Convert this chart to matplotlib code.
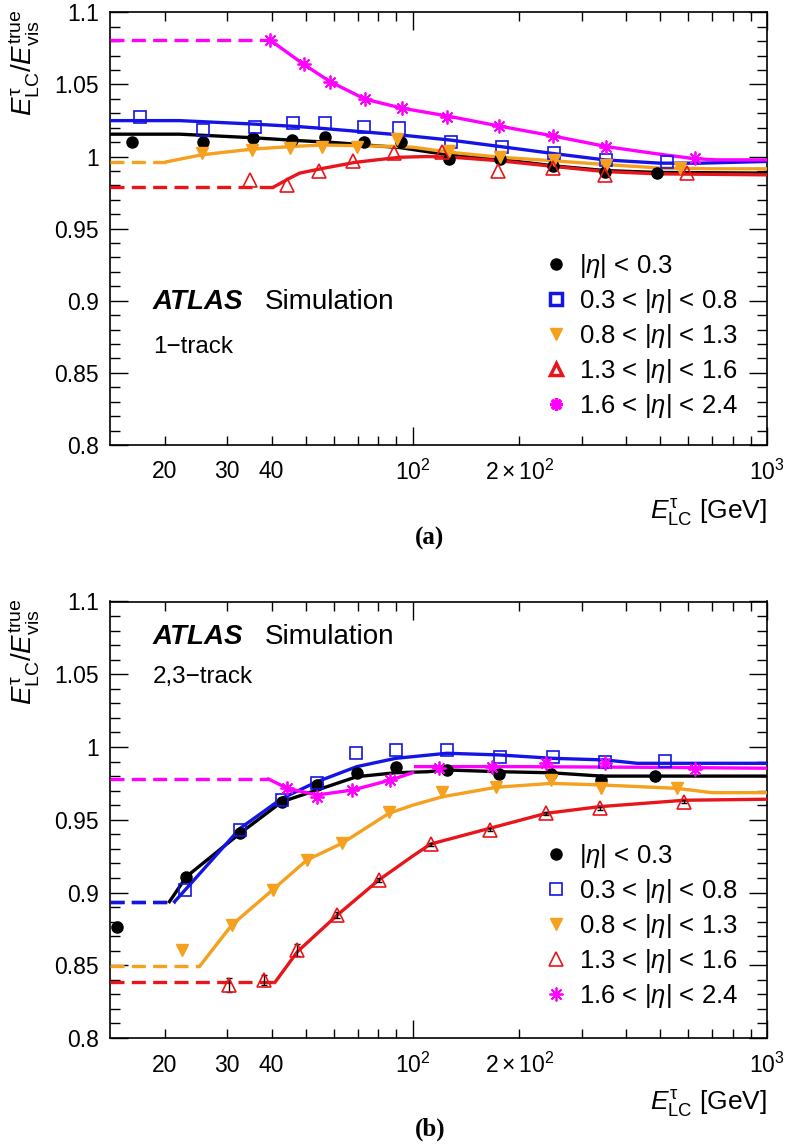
import matplotlib
matplotlib.use("Agg")
import matplotlib.pyplot as plt
from matplotlib.ticker import FixedLocator, NullFormatter, MultipleLocator
from matplotlib.lines import Line2D

plt.rcParams['font.family'] = ['Liberation Sans', 'DejaVu Sans']
plt.rcParams['mathtext.fontset'] = 'custom'
plt.rcParams['mathtext.rm'] = 'Liberation Sans'
plt.rcParams['mathtext.it'] = 'Liberation Sans:italic'
plt.rcParams['mathtext.bf'] = 'Liberation Sans:bold'
plt.rcParams['mathtext.default'] = 'regular'

# ---------------- data: panel (a) 1-track ----------------
a_eta0_E = [16.1, 25.6, 35.5, 45.6, 56.7, 72.8, 92.5, 127, 177, 249, 348, 488]
a_eta0_R = [1.0104, 1.0104, 1.0127, 1.0115, 1.0138, 1.0104, 1.0104, 0.9985, 0.998, 0.9931, 0.9896, 0.9885]
a_eta1_E = [17.0, 25.6, 35.9, 46.1, 56.7, 72.8, 91.5, 128, 179, 251, 352, 521]
a_eta1_R = [1.0276, 1.0185, 1.0207, 1.0231, 1.0231, 1.0207, 1.0196, 1.0104, 1.0069, 1.0023, 0.9977, 0.9959]
a_eta2_E = [25.4, 35.2, 45.2, 55.5, 69.7, 90.5, 126.7, 177, 251, 352, 567]
a_eta2_R = [1.0023, 1.0046, 1.0062, 1.0069, 1.0069, 1.012, 1.004, 1.0, 0.9977, 0.9943, 0.992]
a_eta3_E = [34.8, 44.3, 54.3, 68, 88.5, 121, 173.6, 248.6, 348, 594]
a_eta3_R = [0.9835, 0.9804, 0.99, 0.997, 1.0027, 1.0034, 0.9898, 0.992, 0.9873, 0.9885]
a_eta4_E = [39.7, 49.3, 58.6, 73.6, 93.5, 125.4, 175, 248.6, 352, 625]
a_eta4_R = [1.0806, 1.0639, 1.0518, 1.0397, 1.0335, 1.0276, 1.0212, 1.0143, 1.0069, 0.9989]

# fitted calibration curves, start of solid part = end of dashed
a_fit0_E = [14, 22, 35, 48, 60, 92, 126, 177, 251, 348, 488, 1000]
a_fit0_R = [1.0155, 1.0155, 1.0131, 1.011, 1.0097, 1.0062, 1.0012, 0.998, 0.9935, 0.9903, 0.989, 0.9885]
a_fit1_E = [14, 22, 35, 48, 55, 92, 127, 177, 251, 348, 500, 650, 1000]
a_fit1_R = [1.0249, 1.0249, 1.0226, 1.0207, 1.0196, 1.015, 1.0115, 1.0069, 1.002, 0.9977, 0.9954, 0.9954, 0.9966]
a_fit2_E = [20.2, 25.4, 35.2, 45.2, 55.5, 70, 90, 100, 127, 177, 251, 348, 500, 700, 1000]
a_fit2_R = [0.9963, 1.0012, 1.0051, 1.0069, 1.008, 1.0075, 1.007, 1.0065, 1.003, 0.9995, 0.997, 0.9945, 0.992, 0.9915, 0.9915]
a_fit3_E = [40.5, 45, 48, 55, 69, 92, 110, 130, 177, 251, 348, 488, 1000]
a_fit3_R = [0.9788, 0.985, 0.9885, 0.9915, 0.996, 0.9995, 1.0, 0.9995, 0.997, 0.9931, 0.9896, 0.988, 0.9873]
a_fit4_E = [39.7, 49.3, 58.6, 73.6, 93.5, 125.4, 175, 248.6, 352, 488, 625, 720, 1000]
a_fit4_R = [1.0806, 1.0639, 1.0518, 1.0397, 1.0335, 1.0281, 1.0212, 1.0143, 1.0069, 1.0019, 0.9985, 0.9977, 0.9977]

# ---------------- data: panel (b) 2,3-track ----------------
b_eta0_E = [14.66, 23.0, 32.6, 42.8, 53.7, 69.6, 89.5, 125.4, 175, 246, 341, 483]
b_eta0_R = [0.8761, 0.9109, 0.9407, 0.9624, 0.9739, 0.9819, 0.9865, 0.9842, 0.9814, 0.9814, 0.9773, 0.980]
b_eta1_E = [22.8, 32.6, 42.8, 53.7, 69.3, 89.9, 125.4, 177, 249, 350, 515]
b_eta1_R = [0.9017, 0.943, 0.9636, 0.9755, 0.9957, 0.9979, 0.9979, 0.9933, 0.9933, 0.9895, 0.9904]
b_eta2_E = [22.3, 30.9, 40.5, 50.3, 63.2, 85.7, 121.4, 172, 246, 341, 556]
b_eta2_R = [0.8605, 0.8777, 0.9017, 0.9223, 0.9338, 0.9555, 0.9693, 0.9723, 0.9773, 0.9716, 0.9716]
b_eta3_E = [30.4, 38.2, 47.3, 61.3, 80.3, 112.4, 165, 238, 337, 585]
b_eta3_R = [0.8364, 0.8399, 0.8605, 0.8845, 0.9086, 0.9333, 0.943, 0.9544, 0.9579, 0.9624]
b_eta3_err = [0.0045, 0.0035, 0.004, 0.002, 0.0015, 0.001, 0.001, 0.001, 0.001, 0.001]
b_eta4_E = [44.3, 53.7, 67.6, 86.6, 118.7, 168, 238, 348, 627]
b_eta4_R = [0.9716, 0.9658, 0.9704, 0.9773, 0.9854, 0.9865, 0.9888, 0.9888, 0.9847]

b_fit0_E = [20.6, 23.0, 32.6, 42.8, 53.7, 69.6, 89.5, 110, 125, 177, 246, 341, 483, 1000]
b_fit0_R = [0.8937, 0.9109, 0.9407, 0.9624, 0.9704, 0.9796, 0.9823, 0.983, 0.9842, 0.983, 0.9823, 0.980, 0.980, 0.980]
b_fit1_E = [21.3, 22.8, 32.6, 42.8, 53.7, 69.6, 89.5, 125, 177, 249, 350, 430, 1000]
b_fit1_R = [0.8937, 0.9017, 0.9441, 0.9647, 0.9761, 0.9865, 0.9922, 0.9957, 0.9945, 0.9922, 0.9911, 0.9888, 0.9888]
b_fit2_E = [25.1, 30.9, 40.5, 50.3, 63.2, 85.7, 100, 121.4, 172, 246, 341, 556, 700, 1000]
b_fit2_R = [0.8495, 0.8777, 0.9023, 0.9223, 0.9338, 0.9544, 0.960, 0.9658, 0.9723, 0.975, 0.9739, 0.9716, 0.9686, 0.9686]
b_fit3_E = [40.9, 47.3, 61.3, 80.3, 100, 112.4, 165, 238, 337, 585, 1000]
b_fit3_R = [0.8383, 0.8593, 0.8845, 0.9086, 0.925, 0.9333, 0.9441, 0.9544, 0.959, 0.9634, 0.9641]
b_fit4_E = [39.2, 44.3, 53.7, 67.6, 86.6, 100]
b_fit4_R = [0.978, 0.9716, 0.967, 0.9704, 0.9773, 0.9823]
b_fit4b_E = [102, 200, 500, 1000]
b_fit4b_R = [0.9865, 0.9865, 0.986, 0.9854]

labels = [r'|$\mathit{\eta}$| < 0.3', r'0.3 < |$\mathit{\eta}$| < 0.8', r'0.8 < |$\mathit{\eta}$| < 1.3',
          r'1.3 < |$\mathit{\eta}$| < 1.6', r'1.6 < |$\mathit{\eta}$| < 2.4']

x_ticks = [20, 30, 40, 100, 200, 1000]
x_ticklabels = ['20', '30', '40', r'$10^{2}$', r'$2\times10^{2}$', r'$10^{3}$']
y_ticks = [0.8, 0.85, 0.9, 0.95, 1.0, 1.05, 1.1]
y_ticklabels = ['0.8', '0.85', '0.9', '0.95', '1', '1.05', '1.1']

# styles
C_BLK = 'black'
C_BLU = '#1414e6'
C_ORA = '#f5a01e'
C_RED = '#e8161b'
C_MAG = '#ff00ff'
LW = 2.4
DASH = (4.2, 2.2)
FS = 16.5
FS_LEG = 18.5
FS_ATL = 20

fig = plt.figure(figsize=(7.86, 11.47), dpi=100)
W, H = 786.0, 1147.0
ax1 = fig.add_axes([110 / W, 1 - 445 / H, 657 / W, 432.7 / H])
ax2 = fig.add_axes([110 / W, 1 - 1038 / H, 657 / W, 436.5 / H])


def dashed_to(ax, E_end, R, color):
    ax.plot([14, E_end], [R, R], color=color, lw=LW, dashes=DASH, solid_capstyle='butt', zorder=3)


def style_axes(ax):
    ax.set_xscale('log')
    ax.set_xlim(14, 1000)
    ax.set_ylim(0.8, 1.1)
    ax.xaxis.set_major_locator(FixedLocator([100, 1000]))
    ax.xaxis.set_minor_locator(FixedLocator([20, 30, 40, 50, 60, 70, 80, 90,
                                             200, 300, 400, 500, 600, 700, 800, 900]))
    ax.xaxis.set_major_formatter(NullFormatter())
    ax.xaxis.set_minor_formatter(NullFormatter())
    for e, lab in zip(x_ticks, x_ticklabels):
        ax.text(e, -0.062, lab, transform=ax.get_xaxis_transform(), ha='center', va='center', fontsize=FS)
    ax.set_yticks(y_ticks)
    ax.set_yticklabels(y_ticklabels, fontsize=FS)
    ax.yaxis.set_minor_locator(MultipleLocator(0.01))
    ax.tick_params(axis='both', which='both', direction='in', top=True, right=True, width=1.0)
    ax.tick_params(axis='y', which='major', length=13, pad=8)
    ax.tick_params(axis='y', which='minor', length=7)
    ax.tick_params(axis='x', which='major', length=13)
    ax.tick_params(axis='x', which='minor', length=6.5)
    for s in ax.spines.values():
        s.set_linewidth(1.2)
    ax.text(-0.13, 1.008, r'$\mathit{E}^{\tau}_{LC}/\mathit{E}^{true}_{vis}$', transform=ax.transAxes,
            rotation=90, ha='center', va='top', fontsize=20)


def legend(ax, handles, y0):
    ax.legend(handles, labels, loc='upper left', bbox_to_anchor=(0.655, y0), frameon=False,
              fontsize=FS_LEG, handlelength=1.2, handletextpad=0.3, labelspacing=0.27, borderpad=0,
              borderaxespad=0)


# ---------------- panel (a) ----------------
ax = ax1
dashed_to(ax, a_fit2_E[0], a_fit2_R[0], C_ORA)
dashed_to(ax, a_fit3_E[0], a_fit3_R[0], C_RED)
dashed_to(ax, a_fit4_E[0], a_fit4_R[0], C_MAG)
ax.plot(a_fit0_E, a_fit0_R, color=C_BLK, lw=LW, zorder=3)
ax.plot(a_fit1_E, a_fit1_R, color=C_BLU, lw=LW, zorder=3)
ax.plot(a_fit2_E, a_fit2_R, color=C_ORA, lw=LW, zorder=3)
ax.plot(a_fit3_E, a_fit3_R, color=C_RED, lw=LW, zorder=3)
ax.plot(a_fit4_E, a_fit4_R, color=C_MAG, lw=LW, zorder=3)
ax.plot(a_eta0_E, a_eta0_R, 'o', color=C_BLK, ms=8, ls='none', zorder=4)
ax.plot(a_eta1_E, a_eta1_R, 's', mfc='none', mec=C_BLU, mew=1.2, ms=9, ls='none', zorder=4)
ax.plot(a_eta2_E, a_eta2_R, 'v', color=C_ORA, ms=8.5, ls='none', zorder=4)
ax.plot(a_eta3_E, a_eta3_R, '^', mfc='none', mec=C_RED, mew=1.2, ms=10, ls='none', zorder=4)
ax.plot(a_eta4_E, a_eta4_R, marker=(8, 2, 0), color=C_MAG, mew=1.3, ms=10, ls='none', zorder=4)
style_axes(ax)
hl = [Line2D([], [], marker='o', color=C_BLK, ms=8, ls='none'),
      Line2D([], [], marker='s', mfc='none', mec=C_BLU, mew=2.5, ms=8, ls='none'),
      Line2D([], [], marker='v', color=C_ORA, ms=8.5, ls='none'),
      Line2D([], [], marker='^', mfc='none', mec=C_RED, mew=2.5, ms=9, ls='none'),
      Line2D([], [], marker=(8, 2, 0), color=C_MAG, mew=2.4, ms=9, ls='none')]
legend(ax, hl, 0.445)
ax.text(0.065, 0.331, 'ATLAS', transform=ax.transAxes, fontsize=FS_ATL, fontweight='bold',
        fontstyle='italic', va='center', ha='left')
ax.text(0.235, 0.331, 'Simulation', transform=ax.transAxes, fontsize=FS_ATL, va='center', ha='left')
ax.text(0.065, 0.227, '1\u2212track', transform=ax.transAxes, fontsize=17.5, va='center', ha='left')
ax.text(1.0, -0.157, r'$\mathit{E}^{\tau}_{LC}$ [GeV]', transform=ax.transAxes, fontsize=19,
        ha='right', va='center')

# ---------------- panel (b) ----------------
ax = ax2
dashed_to(ax, b_fit0_E[0], b_fit0_R[0], C_BLK)
dashed_to(ax, b_fit1_E[0], b_fit1_R[0], C_BLU)
dashed_to(ax, b_fit2_E[0], b_fit2_R[0], C_ORA)
dashed_to(ax, b_fit3_E[0], b_fit3_R[0], C_RED)
dashed_to(ax, b_fit4_E[0], b_fit4_R[0], C_MAG)
ax.plot(b_fit0_E, b_fit0_R, color=C_BLK, lw=LW, zorder=3)
ax.plot(b_fit1_E, b_fit1_R, color=C_BLU, lw=LW, zorder=3)
ax.plot(b_fit2_E, b_fit2_R, color=C_ORA, lw=LW, zorder=3)
ax.plot(b_fit3_E, b_fit3_R, color=C_RED, lw=LW, zorder=3)
ax.plot(b_fit4_E, b_fit4_R, color=C_MAG, lw=LW, zorder=3)
ax.plot(b_fit4b_E, b_fit4b_R, color=C_MAG, lw=LW, zorder=3)
ax.plot(b_eta0_E, b_eta0_R, 'o', color=C_BLK, ms=8, ls='none', zorder=4)
ax.plot(b_eta1_E, b_eta1_R, 's', mfc='none', mec=C_BLU, mew=1.2, ms=9, ls='none', zorder=4)
ax.plot(b_eta2_E, b_eta2_R, 'v', color=C_ORA, ms=8.5, ls='none', zorder=4)
ax.errorbar(b_eta3_E, b_eta3_R, yerr=b_eta3_err, fmt='none', ecolor='black', elinewidth=1, capsize=2, zorder=4)
ax.plot(b_eta3_E, b_eta3_R, '^', mfc='none', mec=C_RED, mew=1.2, ms=10, ls='none', zorder=4)
ax.plot(b_eta4_E, b_eta4_R, marker=(8, 2, 0), color=C_MAG, mew=1.3, ms=10, ls='none', zorder=4)
style_axes(ax)
hl2 = [Line2D([], [], marker='o', color=C_BLK, ms=8, ls='none'),
       Line2D([], [], marker='s', mfc='none', mec=C_BLU, mew=1.2, ms=9, ls='none'),
       Line2D([], [], marker='v', color=C_ORA, ms=8.5, ls='none'),
       Line2D([], [], marker='^', mfc='none', mec=C_RED, mew=1.2, ms=10, ls='none'),
       Line2D([], [], marker=(8, 2, 0), color=C_MAG, mew=1.3, ms=10, ls='none')]
legend(ax, hl2, 0.449)
ax.text(0.065, 0.919, 'ATLAS', transform=ax.transAxes, fontsize=FS_ATL, fontweight='bold',
        fontstyle='italic', va='center', ha='left')
ax.text(0.235, 0.919, 'Simulation', transform=ax.transAxes, fontsize=FS_ATL, va='center', ha='left')
ax.text(0.065, 0.828, '2,3\u2212track', transform=ax.transAxes, fontsize=17.5, va='center', ha='left')
ax.text(1.0, -0.149, r'$\mathit{E}^{\tau}_{LC}$ [GeV]', transform=ax.transAxes, fontsize=19,
        ha='right', va='center')

fig.text(430 / W, 1 - 538 / H, '(a)', fontsize=18, fontweight='bold', family='Liberation Serif',
         ha='center', va='center')
fig.text(430 / W, 1 - 1129 / H, '(b)', fontsize=18, fontweight='bold', family='Liberation Serif',
         ha='center', va='center')

fig.savefig('out.png', dpi=100)
